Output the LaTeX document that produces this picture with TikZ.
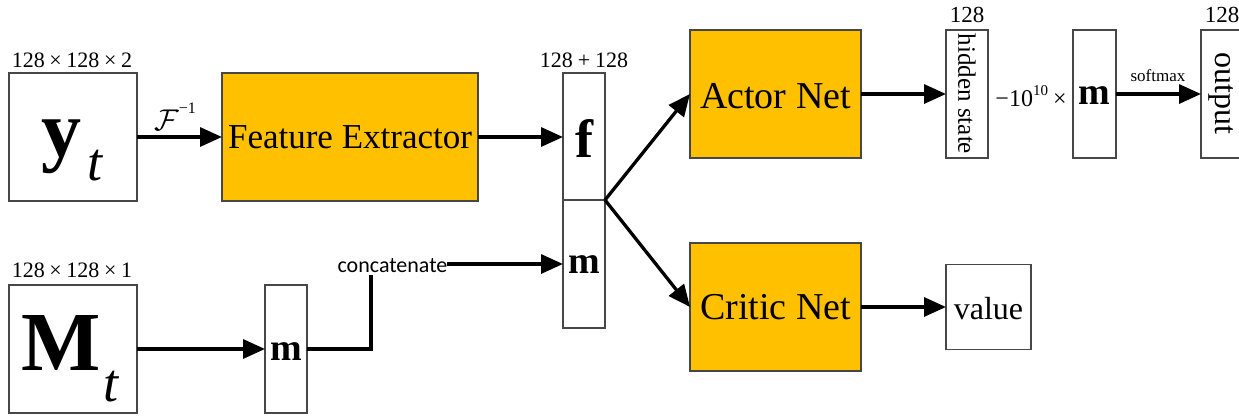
\RequirePackage{fix-cm}
\documentclass[tikz,border=0pt]{standalone}
\usepackage{fontspec}
\setmainfont{Liberation Serif}
\newfontfamily\labelsans{Carlito}
\usetikzlibrary{arrows.meta}
\definecolor{netorange}{HTML}{FFC000}
\newcommand{\fs}[1]{\fontsize{#1}{#1}\selectfont}
\newcommand{\mulsp}{\hspace{4.6pt}}
\tikzset{
  box/.style={draw=black!72, line width=1.1pt, inner sep=0pt, outer sep=0pt},
  netbox/.style={box, fill=netorange},
  link/.style={line width=3.3pt, -{Triangle[length=22pt,width=19pt]}},
  wire/.style={line width=3.3pt},
  txt/.style={inner sep=0pt, outer sep=0pt, anchor=base},
}
\begin{document}
\begin{tikzpicture}[x=1pt, y=-1pt]
\useasboundingbox (0,0) rectangle (1239,415);
\clip (0,0) rectangle (1239,415);

% ---- inputs ----
\node[box, minimum width=128pt, minimum height=128pt] (yt) at (73,137) {};
\node[txt] (ytl) at (72,67) {\fs{22}128\mulsp×\mulsp128\mulsp×\mulsp2};
\node[txt] (yty) at (61,156) {\fs{80}\bfseries y};
\node[txt] (ytt) at (95,180) {\fs{54}\itshape t};

\node[box, minimum width=128pt, minimum height=128pt] (Mt) at (73,349) {};
\node[txt] (Mtl) at (72,277) {\fs{22}128\mulsp×\mulsp128\mulsp×\mulsp1};
\node[txt] (MtM) at (61,370) {\fs{84}\bfseries M};
\node[txt] (Mtt) at (111,401) {\fs{54}\itshape t};

% ---- feature extractor ----
\node[netbox, minimum width=256pt, minimum height=128pt] (fe) at (350,137) {};
\node[txt] (fel) at (350,148) {\fs{35}Feature Extractor};

% ---- mask branch ----
\node[box, minimum width=42pt, minimum height=128pt] (msmall) at (286,349) {};
\node[txt] (msl) at (286,360) {\fs{38}\bfseries m};
\node[txt] (concat) at (392.5,272) {\labelsans\fs{22}concatenate};

% ---- concatenated vector ----
\node[box, minimum width=42pt, minimum height=127pt] (fbox) at (584,136.5) {};
\node[box, minimum width=42pt, minimum height=128pt] (mbox) at (584,264) {};
\node[txt] (ffl) at (584,157) {\fs{54}\bfseries f};
\node[txt] (mml) at (584,273) {\fs{38}\bfseries m};
\node[txt] (fml) at (584,67) {\fs{22}128\hspace{5pt}+\hspace{5pt}128};

% ---- actor / critic ----
\node[netbox, minimum width=171pt, minimum height=128pt] (actor) at (775.5,94) {};
\node[txt] (actl) at (775.5,108) {\fs{38}Actor Net};
\node[netbox, minimum width=171pt, minimum height=128pt] (critic) at (775.5,307) {};
\node[txt] (crl) at (775.5,319) {\fs{38}Critic Net};

% ---- actor head ----
\node[box, minimum width=42pt, minimum height=128pt] (hidden) at (967,94) {};
\node[rotate=-90, inner sep=0pt] (hidl) at (hidden) {\fs{25}hidden state};
\node[txt] (hid128) at (967,23) {\fs{23}128};
\node[txt] (scale) at (1031,106) {\fs{24}−10\raisebox{0.42em}{\fs{15}10}\hspace{5pt}×};
\node[box, minimum width=43pt, minimum height=128pt] (mright) at (1094.5,94) {};
\node[txt] (mrl) at (1094.5,104) {\fs{38}\bfseries m};
\node[box, minimum width=42pt, minimum height=128pt] (output) at (1222,94) {};
\node[rotate=-90, inner sep=0pt] (outl) at (1221,93) {\fs{32}output};
\node[txt] (out128) at (1222,23) {\fs{23}128};
\node[txt] (smax) at (1158,81) {\fs{17}softmax};

% ---- critic head ----
\node[box, minimum width=85pt, minimum height=85pt] (value) at (988.5,307) {};
\node[txt] (vall) at (988.5,319) {\fs{32}value};

% ---- connectors ----
\draw[link] (yt.east) -- (yt.east -| fe.west);
\node[txt] (finv) at (175,130) {\fs{30}$\mathcal{F}$\raisebox{0.55em}{\fs{16}−1}};
\draw[link] (fe.east) -- (fe.east -| fbox.west);
\draw[link] (Mt.east) -- (Mt.east -| msmall.west);
\draw[wire] (msmall.east) -| ([xshift=-21.5pt, yshift=-3pt]concat.south);
\draw[link] (concat.east |- mbox.west) -- (mbox.west);
\draw[link] (fbox.south east) -- (actor.west);
\draw[link] (fbox.south east) -- (critic.west);
\draw[link] (actor.east) -- (hidden.west);
\draw[link] (mright.east) -- (output.west);
\draw[link] (critic.east) -- (value.west);
\end{tikzpicture}
\end{document}
